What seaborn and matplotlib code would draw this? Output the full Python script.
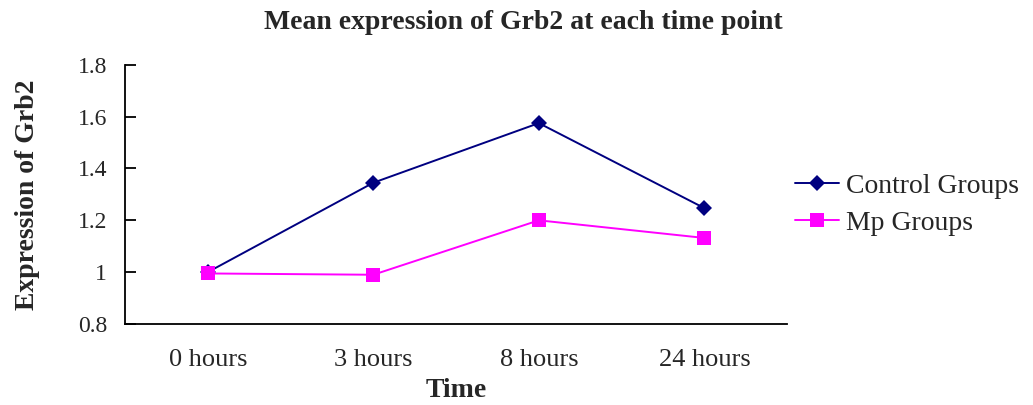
import pandas as pd
import matplotlib
matplotlib.use("Agg")
import matplotlib.pyplot as plt
import seaborn as sns
from matplotlib.ticker import FixedLocator

# datos
tiempos = ["0 hours", "3 hours", "8 hours", "24 hours"]
control = [1.0, 1.345, 1.575, 1.247]
mp = [0.995, 0.99, 1.2, 1.132]
grupos = ["Control Groups", "Mp Groups"]

df = pd.DataFrame({
    "Time": tiempos * 2,
    "Valor": control + mp,
    "Grupo": [grupos[0]] * 4 + [grupos[1]] * 4,
})

sns.set_style("white")
plt.rcParams["font.family"] = ["Liberation Serif", "DejaVu Serif"]

fig = plt.figure(figsize=(10.33, 4.05), dpi=100)
ax = fig.add_axes([0.121, 0.2, 0.641, 0.64])

sns.lineplot(data=df, x="Time", y="Valor", hue="Grupo", style="Grupo",
             markers={grupos[0]: "D", grupos[1]: "s"}, dashes=False,
             palette={grupos[0]: "#000080", grupos[1]: "#FF00FF"},
             markersize=8, linewidth=1.4, markeredgewidth=0, sort=False, ax=ax)

# el cuadrado magenta un poco mas grande
for ln in ax.lines:
    if ln.get_marker() == "s":
        ln.set_markersize(10.5)

ax.set_xlim(-0.5, 3.5)
ax.set_ylim(0.8, 1.8)
ax.set_yticks([0.8, 1.0, 1.2, 1.4, 1.6, 1.8])
ax.set_yticklabels(["0.8", "1", "1.2", "1.4", "1.6", "1.8"])
ax.set_xticks(range(4))
ax.set_xticklabels(tiempos)
ax.xaxis.set_minor_locator(FixedLocator([0.5, 1.5, 2.5, 3.5]))
ax.tick_params(axis="x", which="major", length=0, pad=18, labelsize=19)
ax.tick_params(axis="x", which="minor", direction="in", length=6, width=1.3, color="black")
ax.tick_params(axis="y", direction="in", length=8, width=1.3, color="black", pad=13, labelsize=17, left=True)

sns.despine(ax=ax)
for s in ["left", "bottom"]:
    ax.spines[s].set_color("black")
    ax.spines[s].set_linewidth(1.3)

ax.set_xlabel("Time", fontsize=20, fontweight="bold", labelpad=5)
ax.set_ylabel("Expression of Grb2", fontsize=20, fontweight="bold", labelpad=27)
fig.text(0.507, 0.945, "Mean expression of Grb2 at each time point", fontsize=20,
         fontweight="bold", ha="center", va="center")

ax.legend(loc="center left", bbox_to_anchor=(0.995, 0.46), frameon=False,
          fontsize=20, handlelength=1.6, handletextpad=0.25, labelspacing=0.42,
          borderaxespad=0)

fig.savefig("out.png", dpi=100)
